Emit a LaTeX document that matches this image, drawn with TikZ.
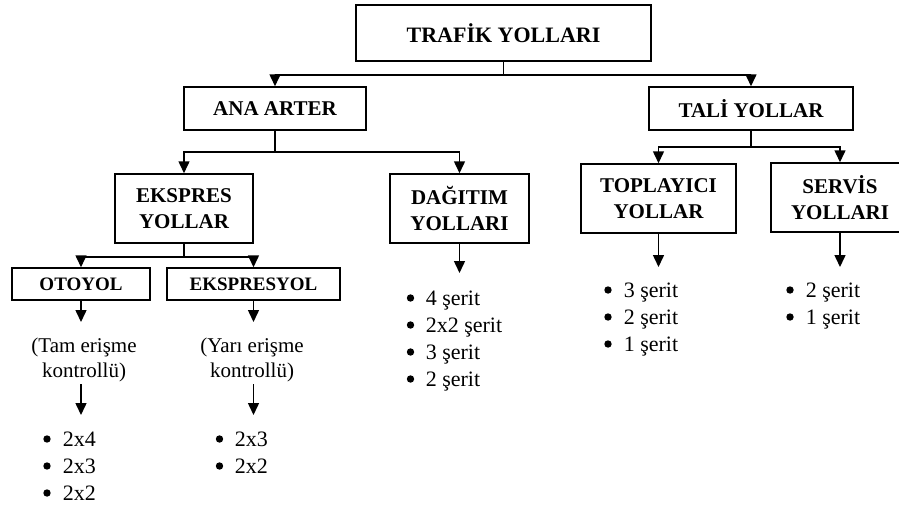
\documentclass[tikz,border=0pt]{standalone}
\usepackage{fontspec}
\setmainfont{Liberation Serif}
\usetikzlibrary{arrows.meta}
\begin{document}
\begin{tikzpicture}[x=1pt,y=-1pt,line width=1.5pt,
  box/.style={draw,rectangle,inner sep=0pt,align=center,
    font=\bfseries\fontsize{21}{26}\selectfont},
  sbox/.style={box,font=\bfseries\fontsize{19}{22}\selectfont},
  arr/.style={-{Triangle[width=11pt,length=12pt]}},
  lst/.style={inner sep=0pt,align=left,anchor=base west,
    font=\fontsize{22}{27}\selectfont},
  paren/.style={inner sep=0pt,align=center,anchor=base,
    font=\fontsize{21}{25}\selectfont},
  dot/.style={fill=black}]
\useasboundingbox (0,0) rectangle (899,506);
\fill[white] (0,0) rectangle (899,506);

% boxes
\node[box,minimum width=295pt,minimum height=56pt,font=\bfseries\fontsize{22}{26}\selectfont] (T) at (503.5,33) {TRAFİK YOLLARI};
\node[box,minimum width=182pt,minimum height=43pt] (A) at (275,108.5) {ANA ARTER};
\node[box,minimum width=204pt,minimum height=43pt] (TL) at (751,108.5) {TALİ YOLLAR};
\node[box,minimum width=138pt,minimum height=69pt] (E) at (184,208.5) {EKSPRES\\YOLLAR};
\node[box,minimum width=139pt,minimum height=69pt] (D) at (459.5,208.5) {DAĞITIM\\YOLLARI};
\node[box,minimum width=155pt,minimum height=69pt] (TP) at (658.5,198.5) {TOPLAYICI\\YOLLAR};
\node[box,minimum width=138pt,minimum height=69pt] (S) at (840,197.5) {SERVİS\\YOLLARI};
\node[sbox,minimum width=138pt,minimum height=32pt] (O) at (81,284) {OTOYOL};
\node[sbox,minimum width=173pt,minimum height=32pt] (EY) at (253.5,284) {EKSPRESYOL};

% tree connectors
\coordinate (j1) at (503.5,75);
\draw (T.south) -- (j1);
\draw[arr] (j1) -| (A.north);
\draw[arr] (j1) -| (TL.north);

\coordinate (j2) at (275,152);
\draw (A.south) -- (j2);
\draw[arr] (j2) -| (E.north);
\draw[arr] (j2) -| (D.north);

\coordinate (j3) at (751,147);
\draw (TL.south) -- (j3);
\draw[arr] (j3) -| (TP.north);
\draw[arr] (j3) -| (S.north);

\coordinate (j4) at (184,257);
\draw (E.south) -- (j4);
\draw[arr] (j4) -| (O.north);
\draw[arr] (j4) -| (EY.north);

% texts under OTOYOL / EKSPRESYOL
\coordinate (o1) at (81,322);
\coordinate (e1) at (253.5,322);
\draw[arr] (O.south) -- (o1);
\draw[arr] (EY.south) -- (e1);
\node[paren] (P1) at (84,377) {(Tam erişme\\kontrollü)};
\node[paren] (P2) at (252,377) {(Yarı erişme\\kontrollü)};
\coordinate (o2a) at (81,384);
\coordinate (o2b) at (81,415);
\coordinate (e2a) at (253.5,384);
\coordinate (e2b) at (253.5,415);
\draw[arr] (o2a) -- (o2b);
\draw[arr] (e2a) -- (e2b);

% arrows to lists
\coordinate (d1) at (459.5,273);
\coordinate (t1) at (658.5,267);
\coordinate (s1) at (840,267);
\draw[arr] (D.south) -- (d1);
\draw[arr] (TP.south) -- (t1);
\draw[arr] (S.south) -- (s1);

% lists (base anchor = last line's baseline)
\node[lst] (L1) at (62,500) {2x4\\2x3\\2x2};
\node[lst] (L2) at (234,473) {2x3\\2x2};
\node[lst] (L3) at (425,386) {4 şerit\\2x2 şerit\\3 şerit\\2 şerit};
\node[lst] (L4) at (623,351) {3 şerit\\2 şerit\\1 şerit};
\node[lst] (L5) at (805,324) {2 şerit\\1 şerit};

% bullets
\foreach \y in {439,466,493} \fill[dot] (47,\y) circle (3.7pt);
\foreach \y in {439,466} \fill[dot] (219.5,\y) circle (3.7pt);
\foreach \y in {298,325,352,379} \fill[dot] (410.5,\y) circle (3.7pt);
\foreach \y in {290,317,344} \fill[dot] (608,\y) circle (3.7pt);
\foreach \y in {290,317} \fill[dot] (790,\y) circle (3.7pt);
\end{tikzpicture}
\end{document}
